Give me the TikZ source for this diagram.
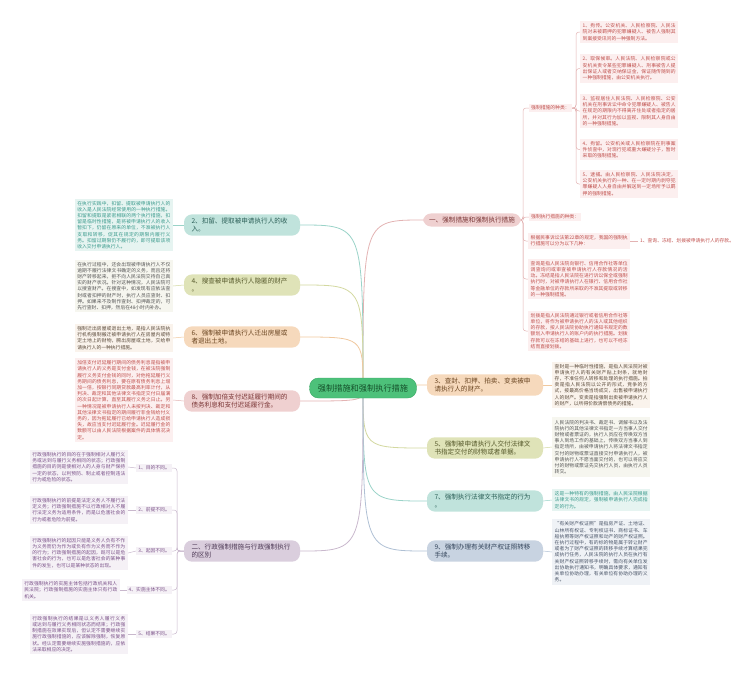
\documentclass[tikz,border=0pt]{standalone}
\usepackage{fontspec}
\newfontfamily\cjk{Noto Sans CJK SC}
\usetikzlibrary{backgrounds}
\XeTeXlinebreaklocale "zh"
\XeTeXlinebreakskip = 0pt plus 1pt

\definecolor{rootgreen}{HTML}{4DC17A}
\definecolor{rootedge}{HTML}{3AA864}
\definecolor{roottext}{HTML}{15502A}
\definecolor{pinkfill}{HTML}{EFD0D0}
\definecolor{pinkline}{HTML}{E3B3B3}
\definecolor{pinktext}{HTML}{7A3535}
\definecolor{pinkleaf}{HTML}{FCEFEF}
\definecolor{pinkword}{HTML}{C0504D}
\definecolor{tealfill}{HTML}{C0E3DC}
\definecolor{tealline}{HTML}{9AD3C8}
\definecolor{tealtext}{HTML}{2B5F57}
\definecolor{tealleaf}{HTML}{E6F4F1}
\definecolor{tealword}{HTML}{3A9A8C}
\definecolor{olivefill}{HTML}{DFE3B8}
\definecolor{oliveline}{HTML}{D3D8A0}
\definecolor{olivetext}{HTML}{55582A}
\definecolor{oliveleaf}{HTML}{F6F6EF}
\definecolor{oliveword}{HTML}{555555}
\definecolor{peachfill}{HTML}{F6D9BC}
\definecolor{peachline}{HTML}{F0C89E}
\definecolor{peachtext}{HTML}{6A4521}
\definecolor{peachleaf}{HTML}{FAF3EC}
\definecolor{peachword}{HTML}{5A4A3A}
\definecolor{bluefill}{HTML}{C8D3E1}
\definecolor{blueline}{HTML}{AFC0D4}
\definecolor{bluetext}{HTML}{33445A}
\definecolor{blueleaf}{HTML}{EFF2F6}
\definecolor{blueword}{HTML}{4A5568}
\definecolor{lilacfill}{HTML}{DACEDD}
\definecolor{lilacline}{HTML}{C9B8CD}
\definecolor{lilactext}{HTML}{4E3A56}
\definecolor{lilacleaf}{HTML}{F5F1F6}
\definecolor{lilacword}{HTML}{7B5289}

\tikzset{
  root/.style={rounded corners=9pt, fill=rootgreen, draw=rootedge, text=roottext,
    font=\cjk\fontsize{8.2}{10}\selectfont, minimum width=107pt, minimum height=20pt},
  branch/.style={rounded corners=8pt, inner xsep=6pt, inner ysep=3.5pt,
    font=\cjk\fontsize{6.6}{8.2}\selectfont},
  twoline/.style={branch, text width=101pt, inner xsep=7.5pt, align=left},
  leaf/.style={text width=93pt, inner sep=2.5pt, align=justify,
    font=\cjk\fontsize{4.8}{6.2}\selectfont},
  tag/.style={inner sep=2pt, font=\cjk\fontsize{4.8}{6.2}\selectfont},
}

\begin{document}
\begin{tikzpicture}[x=1pt,y=-1pt]
\useasboundingbox (0,0) rectangle (755,675);

\node[root] (root) at (363,388) {强制措施和强制执行措施};

% right side
\node[branch, fill=pinkfill, text=pinktext] (sec1) at (472,220) {一、强制措施和强制执行措施};
\node[twoline, fill=peachfill, text=peachtext] (itm3) at (485,385) {3、查封、扣押、拍卖、变卖被申\\请执行人的财产。};
\node[twoline, fill=olivefill, text=olivetext] (itm5) at (485,448) {5、强制被申请执行人交付法律文\\书指定交付的财物或者单据。};
\node[twoline, fill=tealfill, text=tealtext] (itm7) at (485,501) {7、强制执行法律文书指定的行为\\。};
\node[twoline, fill=bluefill, text=bluetext] (itm9) at (485,551) {9、强制办理有关财产权证照转移\\手续。};

\node[tag, fill=pinkleaf, text=pinkword, anchor=west] (kind1) at (529,108) {强制措施的种类：};
\node[tag, fill=pinkleaf, text=pinkword, anchor=west] (kind2) at (529,217) {强制执行措施的种类：};
\node[leaf, fill=pinkleaf, text=pinkword, text width=97pt, anchor=west] (law) at (528,241) {根据民事诉讼法第22章的规定，我国的强制执行措施可以分为以下几种：};
\node[tag, text=pinkword, anchor=west] (lawsub) at (638,241) {1、查询、冻结、划拨被申请执行人的存款。};
\node[leaf, fill=pinkleaf, text=pinkword, text width=97pt, anchor=west] (query) at (528,279) {查询是指人民法院向银行、信用合作社等单位调查询问或审查被申请执行人存款情况的活动。冻结是指人民法院在进行诉讼保全或强制执行时，对被申请执行人在银行、信用合作社等金融单位的存款所采取的不准其提取或转移的一种强制措施。};
\node[leaf, fill=pinkleaf, text=pinkword, text width=97pt, anchor=west] (transfer) at (528,331) {划拨是指人民法院通过银行或者信用合作社等单位，将作为被申请执行人的法人或其他组织的存款，按人民法院协助执行通知书规定的数额划入申请执行人的账户内的执行措施。划拨存款可以在冻结的基础上进行，也可以不经冻结而直接划拨。};

\node[leaf, fill=pinkleaf, text=pinkword, anchor=west] (m1) at (580,32) {1、拘传。公安机关、人民检察院、人民法院对未被羁押的犯罪嫌疑人、被告人强制其到案接受讯问的一种强制方法。};
\node[leaf, fill=pinkleaf, text=pinkword, anchor=west] (m2) at (580,68.5) {2、取保候审。人民法院、人民检察院或公安机关责令某些犯罪嫌疑人、刑事被告人提出保证人或者交纳保证金，保证随传随到的一种强制措施，由公安机关执行。};
\node[leaf, fill=pinkleaf, text=pinkword, anchor=west] (m3) at (580,111) {3、监视居住人民法院、人民检察院、公安机关在刑事诉讼中命令犯罪嫌疑人、被告人在规定的期限内不得离开住处或者指定的居所，并对其行为加以监视、限制其人身自由的一种强制措施。};
\node[leaf, fill=pinkleaf, text=pinkword, anchor=west] (m4) at (580,149.5) {4、拘留。公安机关或人民检察院在刑事案件侦查中，对现行犯或重大嫌疑分子，暂时采取的强制措施。};
\node[leaf, fill=pinkleaf, text=pinkword, anchor=west] (m5) at (580,184) {5、逮捕。由人民检察院、人民法院决定，公安机关执行的一种、在一定时期内剥夺犯罪嫌疑人人身自由并解送到一定场所予以羁押的强制措施。};

\node[leaf, fill=peachleaf, text=peachword, anchor=west] (txt3) at (552,385) {查封是一种临时性措施，是指人民法院对被申请执行人的有关财产贴上封条，就地封存，不准任何人转移和处理的执行措施。拍卖是指人民法院以公开的形式，竞争的方式，按最高价格当场成交，出售被申请执行人的财产。变卖是指强制出卖被申请执行人的财产，以所得价款清偿债务的措施。};
\node[leaf, fill=oliveleaf, text=oliveword, anchor=west] (txt5) at (552,447) {人民法院的判决书、裁定书、调解书以及法院执行的其他法律文书指定一方当事人交付财物或者票证的，执行人员应在传唤双方当事人到场工作的基础上，传唤双方当事人到指定场所，由被申请执行人将法律文书指定交付的财物或票证直接交付申请执行人，被申请执行人不愿当面交付的，也可以将应交付的财物或票证先交执行人员，由执行人员转交。};
\node[leaf, fill=tealleaf, text=tealword, anchor=west] (txt7) at (552,500) {这是一种特有的强制措施，由人民法院根据法律文书的规定，强制被申请执行人完成指定的行为。};
\node[leaf, fill=blueleaf, text=blueword, anchor=west] (txt9) at (552,552) {“有关财产权证照”是指房产证、土地证、山林所有权证、专利权证书、商标证书、车船执照等财产权证照和动产的财产权证照。在执行过程中，有的标的物是属于转让财产或者为了财产权证照的转移手续才算结果完成执行任务，人民法院的执行人员在执行有关财产权证照转移手续时，需向有关单位发出协助执行通知书，明确具体要求，通知有关单位协助办理，有关单位有协助办理的义务。};

% left side
\node[twoline, fill=tealfill, text=tealtext] (itm2) at (242,225) {2、扣留、提取被申请执行人的收\\入。};
\node[twoline, fill=olivefill, text=olivetext] (itm4) at (242,285) {4、搜查被申请执行人隐匿的财产\\。};
\node[twoline, fill=peachfill, text=peachtext] (itm6) at (242,337) {6、强制被申请执行人迁出房屋或\\者退出土地。};
\node[twoline, fill=pinkfill, text=pinktext] (itm8) at (242,401) {8、强制加倍支付迟延履行期间的\\债务利息和支付迟延履行金。};
\node[twoline, fill=lilacfill, text=lilactext] (sec2) at (242,551) {二、行政强制措施与行政强制执行\\的区别};

\node[leaf, fill=tealleaf, text=tealword, anchor=east] (txt2) at (173,225) {在执行实践中，扣留、提取被申请执行人的收入是人民法院经常使用的一种执行措施。扣留和提取是紧密相联的两个执行措施，扣留是临时性措施，是将被申请执行人的收入暂扣下，仍留在原来的单位，不准被执行人支取和转移，促其在规定的期限内履行义务。扣留过期限仍不履行的，即可提取该项收入交付申请执行人。};
\node[leaf, fill=oliveleaf, text=oliveword, anchor=east] (txt4) at (173,286) {在执行过程中，还会出现被申请执行人不仅逾期不履行法律文书确定的义务，而且还将财产转移起来，拒不向人民法院交待自己真实的财产状况。针对这种情况，人民法院可以搜查财产。在搜查中，如发现有应依法查封或者扣押的财产时，执行人员应查封、扣押。如果来不及制作查封、扣押裁定的，可先行查封、扣押，然后在48小时内补办。};
\node[leaf, fill=peachleaf, text=peachword, anchor=east] (txt6) at (173,338) {强制迁出房屋或退出土地，是指人民法院执行机构强制搬迁被申请执行人在房屋内或特定土地上的财物，腾出房屋或土地，交给申请执行人的一种执行措施。};
\node[leaf, fill=pinkleaf, text=pinkword, anchor=east] (txt8) at (173,400) {加倍支付迟延履行期间的债务利息是指被申请执行人的义务是支付金钱，在被法院强制履行义务支付金钱的同时，对他拖延履行义务期间的债务利息，要在原有债务利息上增加一倍，按银行同期贷款最高利率计付，从判决、裁定和其他法律文书指定交付日届满的次日起计算，直至其履行义务之日止。另一种情况是被申请执行人未按判决、裁定和其他法律文书指定的期间履行非金钱给付义务的，因为拖延履行已给申请执行人造成损失，故应当支付迟延履行金。迟延履行金的数额可以由人民法院根据案件的具体情况决定。};

\node[tag, fill=lilacleaf, text=lilacword, anchor=east] (dif1) at (172,468) {1、目的不同。};
\node[tag, fill=lilacleaf, text=lilacword, anchor=east] (dif2) at (172,510) {2、前提不同。};
\node[tag, fill=lilacleaf, text=lilacword, anchor=east] (dif3) at (172,551) {3、起因不同。};
\node[tag, fill=lilacleaf, text=lilacword, anchor=east] (dif4) at (172,590) {4、实施主体不同。};
\node[tag, fill=lilacleaf, text=lilacword, anchor=east] (dif5) at (172,634) {5、结果不同。};

\node[leaf, fill=lilacleaf, text=lilacword, anchor=east] (difx1) at (128,467) {行政强制执行的目的在于强制相对人履行义务或达到与履行义务相同的状态；行政强制措施的目的则是使相对人的人身与财产保持一定的状态，以利预防、制止或者控制违法行为或危险的状态。};
\node[leaf, fill=lilacleaf, text=lilacword, anchor=east] (difx2) at (128,510) {行政强制执行的前提是法定义务人不履行法定义务；行政强制措施不以行政相对人不履行法定义务为适用条件，而是以危害社会的行为或者危险为前提。};
\node[leaf, fill=lilacleaf, text=lilacword, anchor=east] (difx3) at (128,553) {行政强制执行的起因只能是义务人负有不作为义务而仍为作为或负有作为义务而不作为的行为；行政强制措施的起因，既可以是危害社会的行为，也可以是危害社会的某种事件的发生，也可以是某种状态的出现。};
\node[leaf, fill=lilacleaf, text=lilacword, anchor=east] (difx4) at (120,590) {行政强制执行的实施主体包括行政机关和人民法院；行政强制措施的实施主体只有行政机关。};
\node[leaf, fill=lilacleaf, text=lilacword, anchor=east] (difx5) at (128,634) {行政强制执行的结果是以义务人履行义务或达到与履行义务相同状态而结束；行政强制措施在效果实现后，但认定不需要继续实施行政强制措施的，应该解除强制，恢复原状。经认定需要继续实施强制措施的，应依法采取相应的决定。};

\begin{scope}[on background layer]
  % main curves
  \draw[pinkline, line width=0.8pt] (root.center) .. controls (363,220) .. (sec1.west);
  \draw[peachline, line width=0.8pt] (root.center) .. controls (363,385) .. (itm3.west);
  \draw[oliveline, line width=0.8pt] (root.center) .. controls (363,448) .. (itm5.west);
  \draw[tealline, line width=0.8pt] (root.center) .. controls (363,501) .. (itm7.west);
  \draw[blueline, line width=0.8pt] (root.center) .. controls (363,551) .. (itm9.west);
  \draw[tealline, line width=0.8pt] (root.center) .. controls (363,225) .. (itm2.east);
  \draw[oliveline, line width=0.8pt] (root.center) .. controls (363,285) .. (itm4.east);
  \draw[peachline, line width=0.8pt] (root.center) .. controls (363,337) .. (itm6.east);
  \draw[pinkline, line width=0.8pt] (root.center) .. controls (363,401) .. (itm8.east);
  \draw[lilacline, line width=0.8pt] (root.center) .. controls (363,551) .. (sec2.east);
  % brackets
  \foreach \t in {kind1,kind2,law,query,transfer}
    \draw[pinkline, line width=0.5pt, rounded corners=3pt] (sec1.east) -- (523,220) |- (\t.west);
  \foreach \t in {m1,m2,m3,m4,m5}
    \draw[pinkline, line width=0.5pt, rounded corners=3pt] (kind1.east) -- (576,108) |- (\t.west);
  \draw[pinkline, line width=0.5pt] (law.east) -- (lawsub.west);
  \foreach \i in {1,...,5} {
    \draw[lilacline, line width=0.5pt, rounded corners=3pt] (sec2.west) -- (177,551) |- (dif\i.east);
    \draw[lilacline, line width=0.5pt] (dif\i.west) -- (difx\i.east);
  }
  % leaves
  \draw[peachline, line width=0.5pt] (itm3.east) -- (txt3.west);
  \draw[oliveline, line width=0.5pt] (itm5.east) -- (txt5.west);
  \draw[tealline, line width=0.5pt] (itm7.east) -- (txt7.west);
  \draw[blueline, line width=0.5pt] (itm9.east) -- (txt9.west);
  \draw[tealline, line width=0.5pt] (itm2.west) -- (txt2.east);
  \draw[oliveline, line width=0.5pt] (itm4.west) -- (txt4.east);
  \draw[peachline, line width=0.5pt] (itm6.west) -- (txt6.east);
  \draw[pinkline, line width=0.5pt] (itm8.west) -- (txt8.east);
\end{scope}
\end{tikzpicture}
\end{document}
